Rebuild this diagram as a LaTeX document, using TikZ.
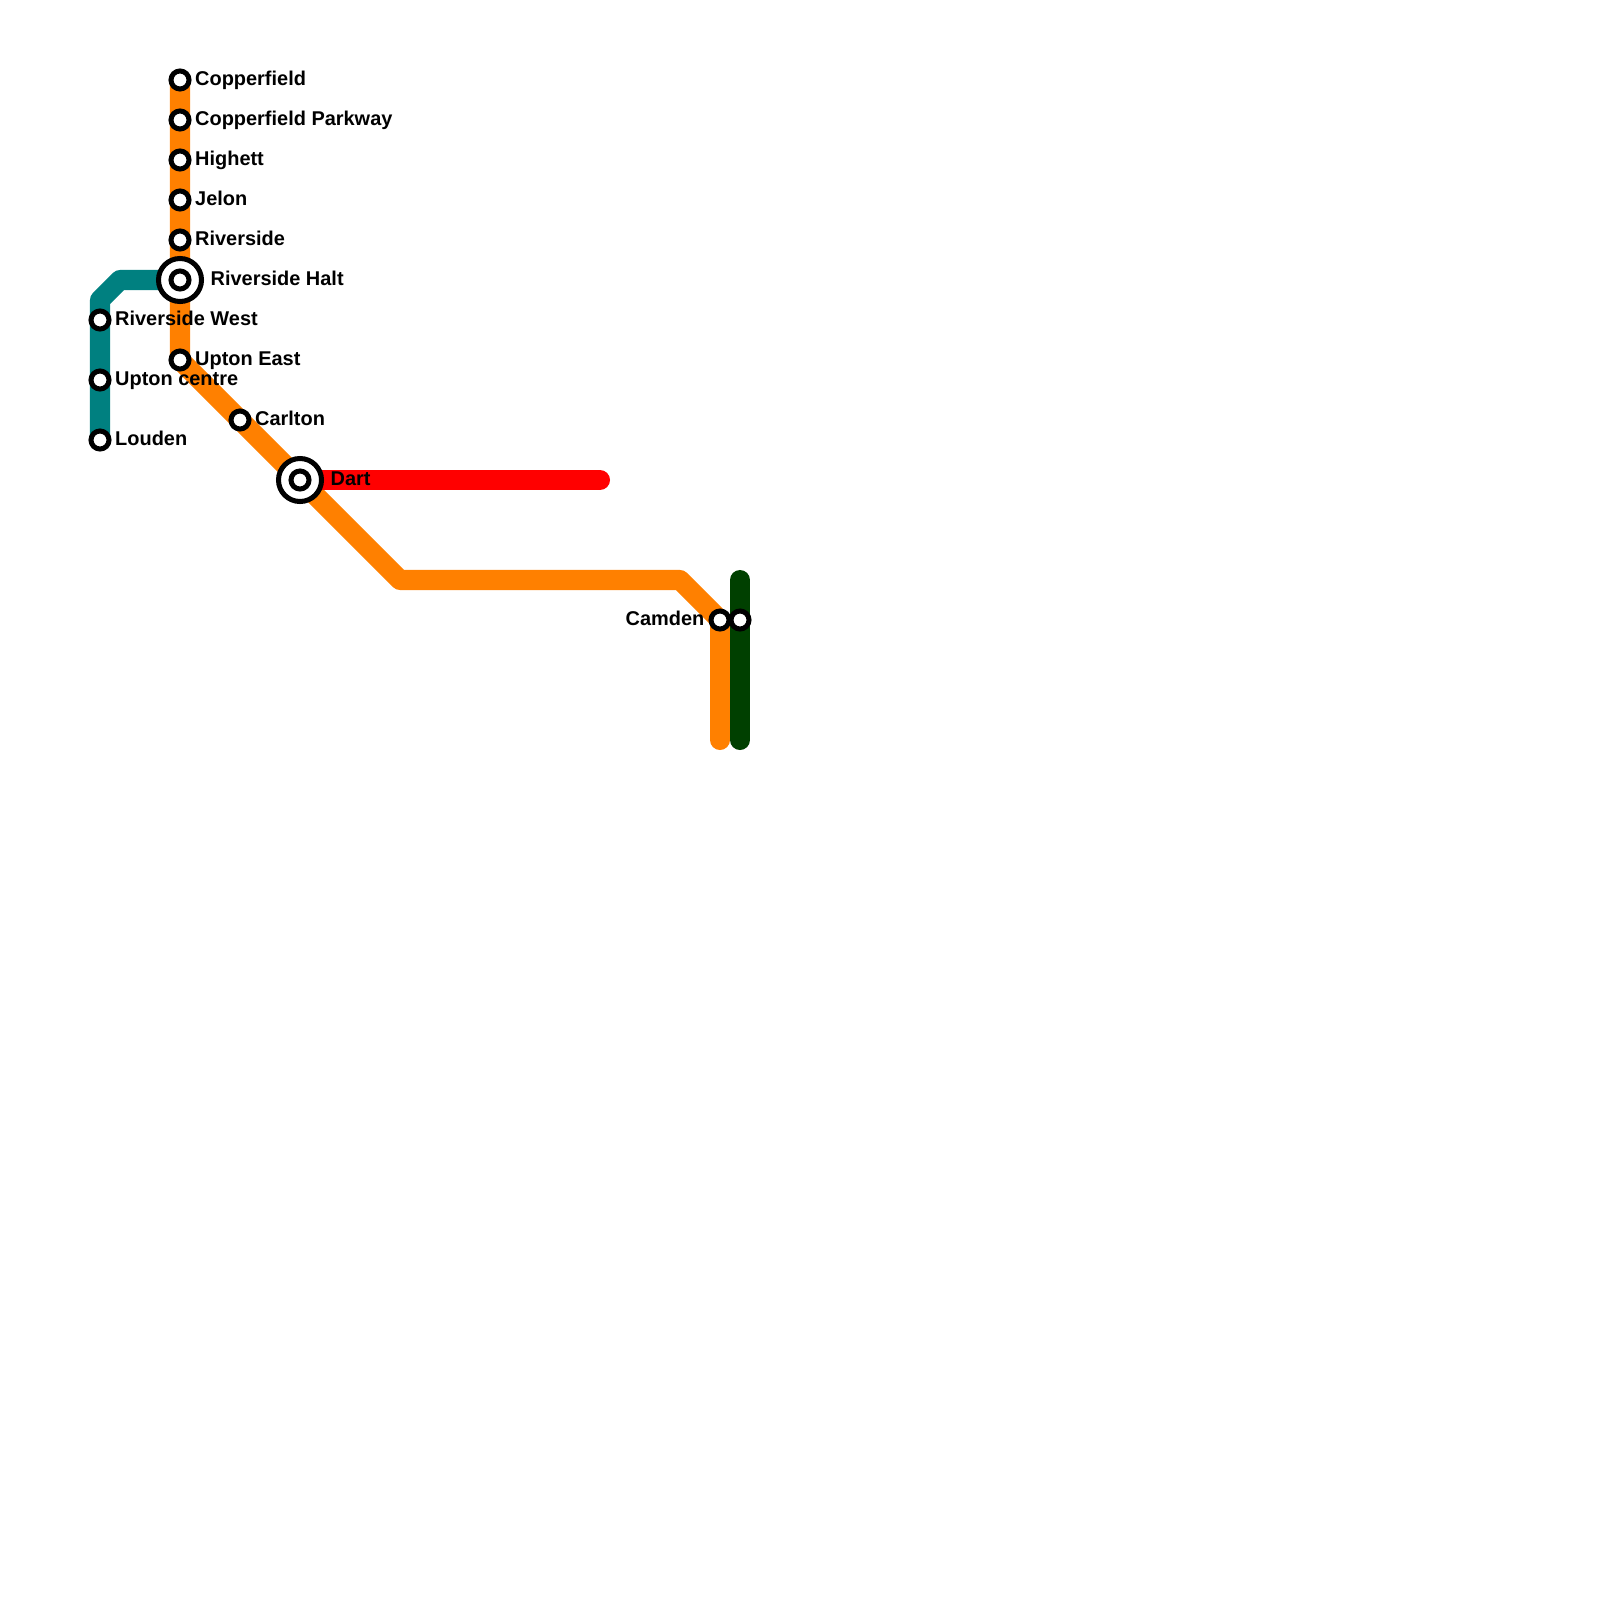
\documentclass[tikz,border=0pt]{standalone}
\usepackage{fontspec}
\setmainfont{Liberation Sans}
\usetikzlibrary{backgrounds}
\definecolor{lineorange}{HTML}{FF8000}
\definecolor{lineteal}{HTML}{008080}
\definecolor{linered}{HTML}{FF0000}
\definecolor{linegreen}{HTML}{004000}

\begin{document}
\begin{tikzpicture}[
      x=0.01cm, y=-0.01cm,
      font=\fontsize{5.67pt}{7pt}\selectfont\bfseries,
      stn/.style={circle, draw=black, fill=white, line width=0.05cm, minimum size=0.18cm, inner sep=0pt},
      xchg/.style={stn, minimum size=0.43cm},
      lbl/.style={anchor=base west, inner sep=0pt, text=black},
      lblL/.style={anchor=base east, inner sep=0pt, text=black},
      rail/.style={line width=0.2cm, line cap=round, line join=round}
    ]
    \useasboundingbox (0,0) rectangle (1600,1600);

    % interchanges
    \node[xchg] (halt) at (180,280) {};
    \node[xchg] (dartX) at (300,480) {};

    % stations
    \node[stn] (copperfield) at (180,80) {};
    \node[stn] (parkway) at (180,120) {};
    \node[stn] (highett) at (180,160) {};
    \node[stn] (jelon) at (180,200) {};
    \node[stn] (riverside) at (180,240) {};
    \node[stn] (haltS) at (180,280) {};
    \node[stn] (uptonE) at (180,360) {};
    \node[stn] (carlton) at (240,420) {};
    \node[stn] (dartS) at (300,480) {};
    \node[stn] (camden) at (720,620) {};
    \node[stn] (camdenG) at (740,620) {};
    \node[stn] (rivWest) at (100,320) {};
    \node[stn] (uptonC) at (100,380) {};
    \node[stn] (louden) at (100,440) {};

    % bends and line ends
    \coordinate (tealA) at (120,280);
    \coordinate (tealB) at (100,300);
    \coordinate (orgA) at (400,580);
    \coordinate (orgB) at (680,580);
    \coordinate (orgEnd) at (720,740);
    \coordinate (redEnd) at (600,480);
    \coordinate (grnTop) at (740,580);
    \coordinate (grnEnd) at (740,740);

    \begin{pgfonlayer}{background}
      \draw[rail, draw=lineteal] (halt.center) -- (tealA) -- (tealB) -- (louden.center);
      \draw[rail, draw=lineorange] (copperfield.center) -- (uptonE.center) -- (dartX.center) -- (orgA) -- (orgB) -- (camden.center) -- (orgEnd);
      \draw[rail, draw=linered] (dartX.center) -- (redEnd);
      \draw[rail, draw=linegreen] (grnTop) -- (grnEnd);
    \end{pgfonlayer}

    % labels
    \node[lbl] (copperfieldL) at (194.5,85.2) {Copperfield};
    \node[lbl] (parkwayL) at (194.5,125.2) {Copperfield Parkway};
    \node[lbl] (highettL) at (194.5,165.2) {Highett};
    \node[lbl] (jelonL) at (194.5,205.2) {Jelon};
    \node[lbl] (riversideL) at (194.5,245.2) {Riverside};
    \node[lbl] (haltL) at (210,285.2) {Riverside Halt};
    \node[lbl] (rivWestL) at (114.5,325.2) {Riverside West};
    \node[lbl] (uptonEL) at (194.5,365.2) {Upton East};
    \node[lbl] (uptonCL) at (114.5,385.2) {Upton centre};
    \node[lbl] (loudenL) at (114.5,445.2) {Louden};
    \node[lbl] (carltonL) at (254.5,425.2) {Carlton};
    \node[lbl] (dartL) at (330,485.2) {Dart};
    \node[lblL] (camdenL) at (705,625.2) {Camden};
\end{tikzpicture}
\end{document}
